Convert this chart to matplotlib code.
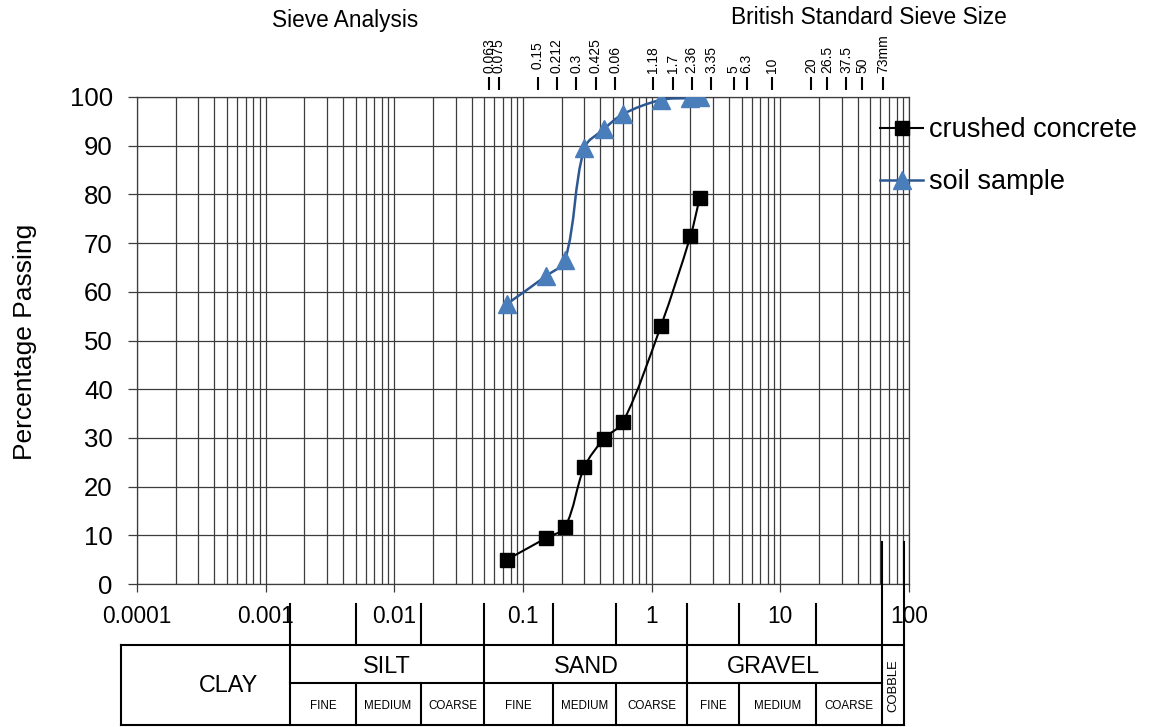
import numpy as np
import matplotlib
matplotlib.use("Agg")
import matplotlib.pyplot as plt
from matplotlib.path import Path
from matplotlib.patches import PathPatch
from matplotlib.lines import Line2D
from matplotlib.ticker import LogLocator, NullLocator

plt.rcParams['font.family'] = ['Liberation Sans', 'DejaVu Sans']

# particle size (mm) vs percentage passing
concrete_size = [0.075, 0.15, 0.212, 0.3, 0.425, 0.6, 1.18, 2.0, 2.36]
concrete_pass = [5.0, 9.4, 11.7, 24.0, 29.8, 33.3, 53.0, 71.4, 79.2]
soil_size = [0.075, 0.15, 0.212, 0.3, 0.425, 0.6, 1.18, 2.0, 2.36]
soil_pass = [57.5, 63.2, 66.5, 89.5, 93.4, 96.5, 99.4, 99.8, 100.0]

# British Standard sieve sizes along the top
sieve_ticks = [0.063, 0.075, 0.15, 0.212, 0.3, 0.425, 0.6, 1.18, 1.7, 2.36, 3.35,
               5, 6.3, 10, 20, 26.5, 37.5, 50, 73]
sieve_labels = ['0.063', '0.075', ' 0.15', '0.212', '0.3', '0.425', '0.06', '1.18',
                '1.7', '2.36', '3.35', '5', '6.3', '10', '20', '26.5', '37.5', '50', '73mm']

x_ticks = [1e-4, 1e-3, 1e-2, 0.1, 1, 10, 100]
x_labels = ['0.0001', '0.001', '0.01', '0.1', '1', '10', '100']
y_ticks = list(range(0, 101, 10))

# soil classification strip, edges as drawn under the chart
clay_edge = 7.5e-5
silt_edges = [0.00155, 0.005, 0.016, 0.05]
sand_edges = [0.05, 0.17, 0.53, 1.88]
gravel_edges = [1.88, 4.8, 19, 62]
cobble_edge = 91
band_names = ['CLAY', 'SILT', 'SAND', 'GRAVEL']
band_centres = [5.1e-4, 0.0088, 0.31, 8.9]
sub_names = ['FINE', 'MEDIUM', 'COARSE']

GRID = '#3c3c3c'
BLUE_LINE = '#2d5893'
BLUE_MK = '#4a7ebb'


def smooth_path(ax, xs, ys):
    # bezier through the points, tangents weighted by chord length (Excel-like smoothing)
    P = ax.transData.transform(np.column_stack([xs, ys]))
    n = len(P)
    T = np.zeros_like(P)
    for i in range(n):
        a = P[max(i - 1, 0)]
        b = P[min(i + 1, n - 1)]
        T[i] = (b - a) / np.hypot(*(b - a))
    verts = [P[0]]
    for i in range(n - 1):
        d = np.hypot(*(P[i + 1] - P[i]))
        verts += [P[i] + T[i] * d / 3, P[i + 1] - T[i + 1] * d / 3, P[i + 1]]
    verts = ax.transData.inverted().transform(np.array(verts))
    codes = [Path.MOVETO] + [Path.CURVE4] * (3 * (n - 1))
    return Path(verts, codes)


W, H = 1159, 727
fig = plt.figure(figsize=(W / 100, H / 100), dpi=100)
L, R, T, B = 137, 909, 97, 584
ax = fig.add_axes([L / W, 1 - B / H, (R - L) / W, (B - T) / H])
ax.set_xscale('log')
ax.set_xlim(1e-4, 100)
ax.set_ylim(0, 100)

ax.add_patch(PathPatch(smooth_path(ax, concrete_size, concrete_pass), fill=False,
                       ec='black', lw=1.5, zorder=3))
ax.plot(concrete_size, concrete_pass, ls='none', marker='s', ms=9.5, color='black', zorder=4)
ax.add_patch(PathPatch(smooth_path(ax, soil_size, soil_pass), fill=False,
                       ec=BLUE_LINE, lw=1.8, zorder=3))
ax.plot(soil_size, soil_pass, ls='none', marker='^', ms=13, color=BLUE_MK, zorder=4)

ax.set_xticks(x_ticks)
ax.set_xticklabels(x_labels)
ax.xaxis.set_minor_locator(LogLocator(base=10, subs=range(2, 10)))
ax.set_yticks(y_ticks)
ax.grid(True, which='both', axis='x', color=GRID, lw=0.9)
ax.grid(True, which='major', axis='y', color=GRID, lw=0.9)
ax.tick_params(axis='x', which='major', length=5.8, width=0.9, color=GRID, pad=9.5, labelsize=16.4)
ax.tick_params(axis='x', which='minor', length=0)
ax.tick_params(axis='y', length=6.5, width=0.9, color=GRID, pad=11, labelsize=18.5)
for s in ax.spines.values():
    s.set_color(GRID)
    s.set_linewidth(0.9)

# top axis with sieve sizes
axt = ax.twiny()
for s in axt.spines.values():
    s.set_visible(False)
axt.spines['top'].set_position(('outward', 5))
axt.set_xscale('log')
shift = 8 / 128.7
axt.set_xlim(10 ** (-4 + shift), 10 ** (2 + shift))
axt.set_xticks(sieve_ticks)
axt.set_xticklabels(sieve_labels)
axt.xaxis.set_minor_locator(NullLocator())
axt.tick_params(axis='x', which='major', direction='out', length=9.4, width=1.5,
                color='black', pad=3.2, labelrotation=90, labelsize=10)

fig.text(345 / W, 1 - 20 / H, 'Sieve Analysis', ha='center', va='center', fontsize=16.3)
fig.text(869 / W, 1 - 18 / H, 'British Standard Sieve Size', ha='center', va='center', fontsize=16.4)
fig.text(25 / W, 1 - 342 / H, 'Percentage Passing', ha='center', va='center',
         rotation=90, fontsize=19)

handles = [Line2D([], [], color='black', lw=1.5, marker='s', ms=9.5),
           Line2D([], [], color=BLUE_LINE, lw=1.8, marker='^', ms=13, mfc=BLUE_MK, mec=BLUE_MK)]
ax.legend(handles, ['crushed concrete', 'soil sample'], loc='upper left',
          bbox_to_anchor=(880 / W, 1 - 117 / H), bbox_transform=fig.transFigure,
          frameon=False, fontsize=19.5, handlelength=1.6,
          handletextpad=0.2, borderpad=0, borderaxespad=0, labelspacing=0.97)

# classification strip below the axis (y in pixels from the top)
tab = fig.add_axes([L / W, 0, (R - L) / W, 187 / H], sharex=ax)
tab.set_ylim(727, 540)
tab.axis('off')
tab.patch.set_visible(False)


def seg(x0, x1, y0, y1):
    tab.plot([x0, x1], [y0, y1], color='black', lw=1.5, clip_on=False,
             solid_capstyle='projecting')


top_y, mid_y, bot_y, up_y = 645, 683, 725, 604
seg(clay_edge, cobble_edge, top_y, top_y)
seg(clay_edge, cobble_edge, bot_y, bot_y)
seg(silt_edges[0], gravel_edges[-1], mid_y, mid_y)
seg(clay_edge, clay_edge, top_y, bot_y)
for x in [silt_edges[0], sand_edges[0], gravel_edges[0]]:
    seg(x, x, up_y, bot_y)
for edges in [silt_edges, sand_edges, gravel_edges]:
    for x in edges[1:3]:
        seg(x, x, up_y, top_y)
        seg(x, x, mid_y, bot_y)
for x in [gravel_edges[-1], cobble_edge]:
    seg(x, x, 542, bot_y)

tab.text(band_centres[0], 686, band_names[0], ha='center', va='center', fontsize=16.8)
for name, xc in zip(band_names[1:], band_centres[1:]):
    tab.text(xc, 667, name, ha='center', va='center', fontsize=16.8)
for edges in [silt_edges, sand_edges, gravel_edges]:
    for k, name in enumerate(sub_names):
        xc = np.sqrt(edges[k] * edges[k + 1])
        tab.text(xc, 706, name, ha='center', va='center', fontsize=8.4)
tab.text(np.sqrt(gravel_edges[-1] * cobble_edge), 686, 'COBBLE', ha='center', va='center',
         rotation=90, fontsize=9.4)

fig.savefig('out.png', dpi=100)
